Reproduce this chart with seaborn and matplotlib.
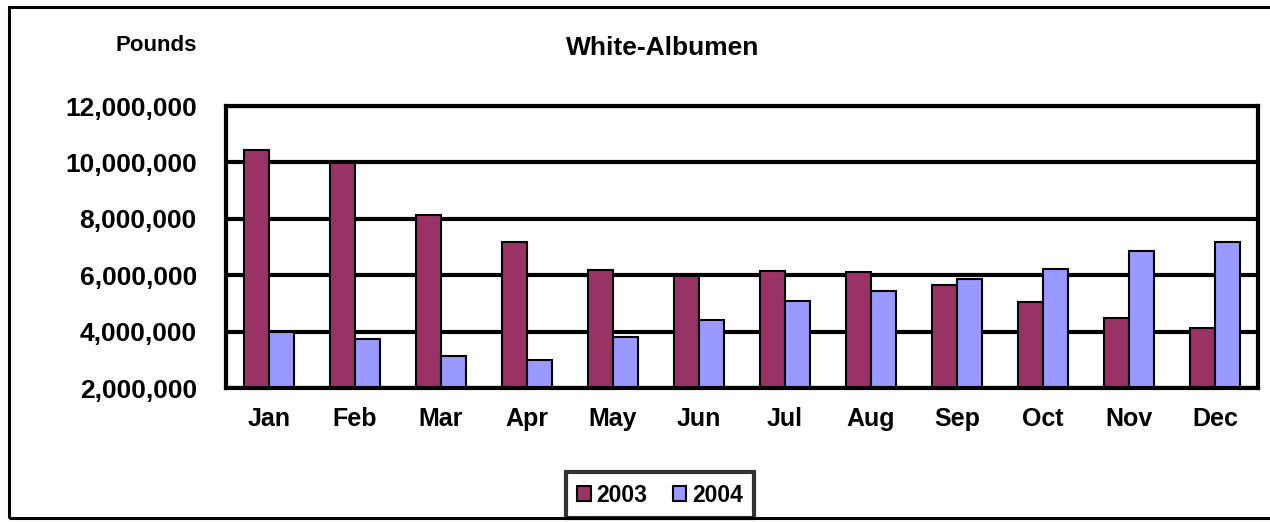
import pandas as pd
import seaborn as sns
import matplotlib.pyplot as plt
from matplotlib.patches import Rectangle
from matplotlib.ticker import FuncFormatter

months = ['Jan', 'Feb', 'Mar', 'Apr', 'May', 'Jun', 'Jul', 'Aug', 'Sep', 'Oct', 'Nov', 'Dec']
y2003 = [10450000, 9980000, 8120000, 7170000, 6200000, 5970000, 6140000, 6100000, 5650000, 5050000, 4500000, 4110000]
y2004 = [3980000, 3750000, 3140000, 2980000, 3800000, 4400000, 5080000, 5430000, 5860000, 6220000, 6860000, 7180000]
years = ['2003', '2004']

d = pd.DataFrame({
    'month': months * 2,
    'pounds': y2003 + y2004,
    'year': [years[0]] * 12 + [years[1]] * 12,
})

sns.set_style('white')
plt.rcParams['font.family'] = ['Liberation Sans', 'DejaVu Sans']
plt.rcParams['font.weight'] = 'bold'
plt.rcParams['text.color'] = 'black'
plt.rcParams['xtick.color'] = 'black'
plt.rcParams['ytick.color'] = 'black'

fig = plt.figure(figsize=(12.7, 5.22), dpi=100)
ax = fig.add_axes([226/1270, 1-388/522, (1258-226)/1270, (388-106)/522])

sns.barplot(ax=ax, data=d, x='month', y='pounds', hue='year',
            palette=['#993366', '#9999FF'], width=0.58,
            edgecolor='black', linewidth=1.5, saturation=1, legend=True)

ax.set_ylim(2000000, 12000000)
ax.set_yticks(range(2000000, 12000001, 2000000))
ax.yaxis.set_major_formatter(FuncFormatter(lambda v, p: f'{int(v):,}'))
ax.yaxis.grid(True, color='black', linewidth=3)
ax.set_axisbelow(True)
for s in ax.spines.values():
    s.set_visible(True)
    s.set_color('black')
    s.set_linewidth(3)
ax.tick_params(axis='y', length=0, pad=21, labelsize=19)
ax.tick_params(axis='x', length=0, pad=14, labelsize=18)
ax.set_xlabel('')
ax.set_ylabel('')

leg = ax.legend(loc='lower center', bbox_to_anchor=(660/1270, 4/522),
                bbox_transform=fig.transFigure, ncol=2, frameon=True,
                fancybox=False, edgecolor='black', fontsize=16.5,
                handlelength=0.6, handleheight=0.6, handletextpad=0.25,
                columnspacing=1.1, borderpad=0.5, borderaxespad=0,
                title=None)
leg.get_frame().set_linewidth(3)
leg.set_zorder(5)

fig.text(663/1270, 1-48/522, 'White-Albumen', ha='center', va='center',
         fontsize=19, fontweight='bold')
fig.text(197/1270, 1-45/522, 'Pounds', ha='right', va='center',
         fontsize=16, fontweight='bold')

fig.patches.append(Rectangle((9/1270, 4/522), 1300/1270, 511/522,
                             transform=fig.transFigure, fill=False,
                             edgecolor='black', linewidth=2.2))

fig.savefig('out.png', dpi=100)
